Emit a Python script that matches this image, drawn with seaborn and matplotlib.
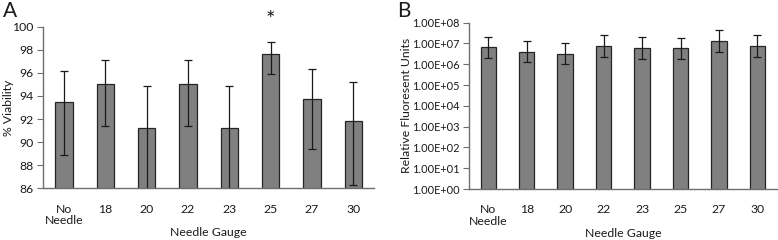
import numpy as np
import pandas as pd
import matplotlib
matplotlib.use("Agg")
import matplotlib.pyplot as plt
from matplotlib.ticker import FuncFormatter, FixedLocator, NullLocator
import seaborn as sns

# ---- data ----
categories = ["No\nNeedle", "18", "20", "22", "23", "25", "27", "30"]
viability = [93.5, 95.0, 91.2, 95.0, 91.25, 97.65, 93.75, 91.8]
viability_upper = [96.2, 97.1, 94.85, 97.1, 94.9, 98.65, 96.35, 95.2]
viability_lower = [88.9, 91.4, 85.5, 91.4, 85.5, 95.9, 89.4, 86.25]
fluor = [6.5e6, 4.1e6, 3.2e6, 7.6e6, 6.0e6, 5.8e6, 1.36e7, 7.6e6]
fluor_upper = [2.1e7, 1.36e7, 1.05e7, 2.45e7, 2.05e7, 1.9e7, 4.4e7, 2.45e7]
fluor_lower = [1.95e6, 1.23e6, 1.0e6, 2.24e6, 1.86e6, 1.73e6, 4.1e6, 2.24e6]
yticks_a = [86, 88, 90, 92, 94, 96, 98, 100]
yticks_b = [1e0, 1e1, 1e2, 1e3, 1e4, 1e5, 1e6, 1e7, 1e8]

sns.set_theme(style="white")
plt.rcParams["font.family"] = ["Lato", "DejaVu Sans"]

bar_color = "#808080"
edge_color = "#262626"
spine_color = "#6e6e6e"
text_color = "#1a1a1a"
fs = 8.8

fig = plt.figure(figsize=(7.78, 2.40), dpi=100)
axA = fig.add_axes([0.0557, 0.2154, 0.4250, 0.6736])
axB = fig.add_axes([0.6028, 0.2125, 0.3955, 0.6929])

dfA = pd.DataFrame({"gauge": categories, "value": viability})
dfB = pd.DataFrame({"gauge": categories, "value": fluor})

sns.barplot(data=dfA, x="gauge", y="value", ax=axA, color=bar_color,
            saturation=1, width=0.42, errorbar=None, edgecolor=edge_color,
            linewidth=0.9)
sns.barplot(data=dfB, x="gauge", y="value", ax=axB, color=bar_color,
            saturation=1, width=0.40, errorbar=None, edgecolor=edge_color,
            linewidth=0.9)
axB.set_yscale("log")

xs = np.arange(len(categories))
va = np.array(viability)
axA.errorbar(xs, va, yerr=[va - np.array(viability_lower), np.array(viability_upper) - va],
             fmt="none", ecolor="#1a1a1a", elinewidth=0.9, capsize=3, capthick=0.9)
fb = np.array(fluor)
axB.errorbar(xs, fb, yerr=[fb - np.array(fluor_lower), np.array(fluor_upper) - fb],
             fmt="none", ecolor="#1a1a1a", elinewidth=0.9, capsize=3, capthick=0.9)

for ax in (axA, axB):
    ax.set_xlim(-0.5, len(categories) - 0.5)
    for s in ("top", "right"):
        ax.spines[s].set_visible(False)
    for s in ("left", "bottom"):
        ax.spines[s].set_color(spine_color)
        ax.spines[s].set_linewidth(1.0)
    ax.tick_params(axis="y", which="major", left=True, length=4, width=0.8,
                   color=spine_color, labelsize=fs, labelcolor=text_color, pad=3)
    ax.tick_params(axis="y", which="minor", left=False)
    ax.tick_params(axis="x", bottom=False, labelsize=fs, labelcolor=text_color, pad=5)
    for lab in ax.get_xticklabels():
        lab.set_linespacing(1.05)
    ax.set_xlabel("Needle Gauge", fontsize=fs, color=text_color, va="center")
    ax.grid(False)

axA.xaxis.set_label_coords(0.5, -0.276)
axB.xaxis.set_label_coords(0.5, -0.265)

axA.set_ylim(86, 100)
axA.set_yticks(yticks_a)
axA.set_ylabel("% Viability", fontsize=fs, color=text_color, va="center")
axA.yaxis.set_label_coords(-0.105, 0.5)
axA.text(5, 100.6, "*", ha="center", va="center", fontsize=16,
         color=text_color, clip_on=False)

axB.set_ylim(1, 1e8)
axB.yaxis.set_major_locator(FixedLocator(yticks_b))
axB.yaxis.set_minor_locator(NullLocator())
axB.yaxis.set_major_formatter(FuncFormatter(lambda v, p: "{:.2E}".format(v)))
axB.tick_params(axis="y", labelsize=7.9, pad=3)
axB.set_ylabel("Relative Fluoresent Units", fontsize=fs, color=text_color, va="center")
axB.yaxis.set_label_coords(-0.203, 0.5)

fig.text(0.004, 0.995, "A", fontsize=15, va="top", ha="left", color=text_color)
fig.text(0.510, 0.995, "B", fontsize=15, va="top", ha="left", color=text_color)

fig.savefig("out.png", dpi=100, facecolor="white")
